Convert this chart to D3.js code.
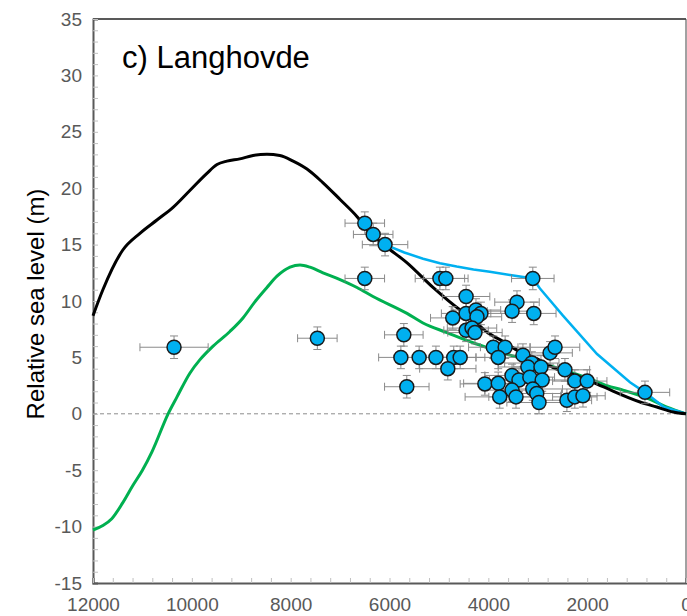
<!DOCTYPE html>
<html>
<head>
<meta charset="utf-8">
<script src="https://cdn.jsdelivr.net/npm/d3@7"></script>
<style>
  body { margin: 0; background: #fff; }
  svg { display: block; font-family: "Liberation Sans", Arial, sans-serif; }
</style>
</head>
<body>
<script>
    const width = 687;
    const height = 616;

    // model curves, [age (yr BP), RSL (m)]
    const blackModel = [
        [12000, 8.7], [11800, 11.0], [11400, 14.5], [11050, 16.0], [10700, 17.2],
        [10380, 18.3], [10040, 19.8], [9700, 21.3], [9490, 22.1], [9290, 22.4],
        [9030, 22.6], [8760, 22.9], [8480, 23.0], [8220, 22.9], [7950, 22.4],
        [7670, 21.7], [7350, 20.5], [7000, 19.0], [6660, 17.5], [6400, 16.1],
        [6090, 14.9], [5650, 13.4], [5120, 11.2], [4570, 9.2], [4370, 8.6],
        [4030, 7.25], [3700, 6.4], [3360, 5.5], [3020, 4.9], [2690, 4.1],
        [2350, 3.6], [2000, 3.0], [1680, 2.4], [930, 1.05], [590, 0.6],
        [260, 0.16], [0, 0]
    ];
    const greenModel = [
        [12000, -10.3], [11800, -9.9], [11620, -9.3], [11400, -7.9], [11200, -6.4],
        [11000, -5.0], [10800, -3.3], [10480, 0], [10300, 1.5], [10040, 3.6],
        [9835, 4.8], [9570, 6.0], [9230, 7.3], [8965, 8.5], [8720, 9.95],
        [8480, 11.2], [8277, 12.2], [8013, 13.0], [7811, 13.2], [7609, 13.0],
        [7346, 12.5], [7002, 11.9], [6658, 11.2], [6334, 10.4], [5646, 8.9],
        [5322, 8.05], [4837, 7.2], [4311, 6.3], [3906, 5.7], [3562, 5.2],
        [3016, 4.6], [2490, 3.9], [1943, 3.1], [1599, 2.5], [1275, 2.1],
        [790, 1.4], [385, 0.6], [0, 0]
    ];
    const blueModel = [
        [6090, 15.0], [5700, 14.3], [5320, 13.75], [4980, 13.35], [4640, 13.05],
        [4300, 12.8], [3970, 12.6], [3560, 12.3], [3100, 12.0], [2955, 11.1],
        [2490, 8.7], [1800, 5.3], [1134, 2.8], [830, 1.9], [450, 0.6], [0, 0]
    ];

    // sea-level indicators: age, RSL, age error
    const ages = [10360, 7460, 6500, 6330, 6090, 6500, 4980, 4860, 4450, 5710,
        5770, 5400, 5060, 4700, 4570, 4820, 5650, 4720, 4450, 4250,
        4150, 4230, 4450, 4330, 4270, 3100, 3420, 3520, 3080, 3900,
        3660, 3800, 3300, 2750, 2650, 3120, 3200, 2935, 2450, 2250,
        2000, 3520, 3380, 3160, 2910, 4070, 3800, 3520, 3100, 3770,
        3440, 3020, 2975, 2410, 2250, 2085, 830];
    const levels = [5.9, 6.7, 16.9, 15.9, 15.0, 12.0, 12.0, 12.0, 10.4, 7.0,
        5.0, 5.0, 5.0, 5.0, 5.0, 4.0, 2.4, 8.5, 8.9, 9.2,
        8.9, 8.6, 7.4, 7.6, 7.2, 12.0, 9.9, 9.1, 8.9, 5.9,
        5.9, 5.0, 5.2, 5.4, 5.9, 4.5, 4.15, 4.15, 3.9, 2.9,
        2.9, 3.4, 3.0, 3.25, 3.0, 2.65, 2.7, 2.1, 2.2, 1.5,
        1.5, 1.8, 1.0, 1.2, 1.5, 1.6, 1.9];
    const ageErr = [690, 400, 400, 400, 460, 400, 500, 450, 480, 390,
        450, 450, 450, 450, 500, 570, 450, 450, 500, 500,
        550, 500, 450, 500, 550, 430, 450, 500, 450, 500,
        500, 450, 600, 450, 500, 550, 600, 550, 500, 450,
        400, 550, 600, 500, 600, 500, 700, 550, 600, 700,
        550, 500, 650, 500, 450, 450, 500];
    const levelErr = 1;

    const yTicks = d3.range(-15, 36, 1);
    const xTicks = d3.range(0, 12001, 400);

    const x = d3.scaleLinear().domain([12000, 0]).range([93, 686]);
    const y = d3.scaleLinear().domain([-15, 35]).range([583, 19]);

    const svg = d3.select("body")
        .append("svg")
        .attr("width", width)
        .attr("height", height);

    // frame top / right
    svg.append("line")
        .attr("x1", x(12000)).attr("x2", x(0))
        .attr("y1", y(35)).attr("y2", y(35))
        .attr("stroke", "#222").attr("stroke-width", 1.5);
    svg.append("line")
        .attr("x1", x(0)).attr("x2", x(0))
        .attr("y1", y(35)).attr("y2", y(-15))
        .attr("stroke", "#444").attr("stroke-width", 1);

    // axes
    const yAxis = svg.append("g")
        .attr("transform", `translate(${x(12000)},0)`)
        .call(d3.axisLeft(y).tickValues(yTicks).tickSize(-5).tickPadding(11)
            .tickFormat(d => d % 5 === 0 ? d : ""));
    const xAxis = svg.append("g")
        .attr("transform", `translate(0,${y(-15)})`)
        .call(d3.axisBottom(x).tickValues(xTicks).tickSize(-5).tickPadding(15)
            .tickFormat(d => d % 2000 === 0 ? d : ""));

    [yAxis, xAxis].forEach(g => {
        g.select(".domain").attr("stroke", "#595959").attr("stroke-width", 2);
        g.selectAll(".tick line").attr("stroke", "#c0c0c0").attr("stroke-width", 1);
        g.selectAll(".tick text")
            .attr("fill", "#595959")
            .attr("font-size", 19)
            .attr("font-family", "Liberation Sans, Arial, sans-serif");
    });

    // zero line
    svg.append("line")
        .attr("x1", x(12000)).attr("x2", x(0))
        .attr("y1", y(0)).attr("y2", y(0))
        .attr("stroke", "#8c8c8c")
        .attr("stroke-width", 1)
        .attr("stroke-dasharray", "4,3");

    const smooth = d3.line()
        .x(d => x(d[0]))
        .y(d => y(d[1]))
        .curve(d3.curveMonotoneX);

    svg.append("path")
        .datum(greenModel)
        .attr("fill", "none")
        .attr("stroke", "#00b050")
        .attr("stroke-width", 3)
        .attr("d", smooth);

    svg.append("path")
        .datum(blueModel)
        .attr("fill", "none")
        .attr("stroke", "#00b0f0")
        .attr("stroke-width", 2.5)
        .attr("d", d3.line().x(d => x(d[0])).y(d => y(d[1])));

    svg.append("path")
        .datum(blackModel)
        .attr("fill", "none")
        .attr("stroke", "#000")
        .attr("stroke-width", 3)
        .attr("d", smooth);

    // error bars
    const pts = ages.map((a, i) => ({ age: a, rsl: levels[i], ea: ageErr[i] }));
    const cap = 4;

    const bars = svg.append("g")
        .attr("stroke", "#7f7f7f")
        .attr("stroke-width", 1)
        .attr("fill", "none")
        .attr("opacity", 0.9);

    bars.selectAll("path.h")
        .data(pts)
        .join("path")
        .attr("class", "h")
        .attr("d", d => {
            const x0 = x(d.age + d.ea), x1 = x(d.age - d.ea), yy = y(d.rsl);
            return `M${x0},${yy}H${x1}M${x0},${yy - cap}V${yy + cap}M${x1},${yy - cap}V${yy + cap}`;
        });

    bars.selectAll("path.v")
        .data(pts)
        .join("path")
        .attr("class", "v")
        .attr("d", d => {
            const xx = x(d.age), y0 = y(d.rsl + levelErr), y1 = y(d.rsl - levelErr);
            return `M${xx},${y0}V${y1}M${xx - cap},${y0}H${xx + cap}M${xx - cap},${y1}H${xx + cap}`;
        });

    svg.append("g")
        .selectAll("circle")
        .data(pts)
        .join("circle")
        .attr("cx", d => x(d.age))
        .attr("cy", d => y(d.rsl))
        .attr("r", 7)
        .attr("fill", "#00b0f0")
        .attr("stroke", "#1a1a1a")
        .attr("stroke-width", 1.5);

    // labels
    svg.append("text")
        .attr("x", 122)
        .attr("y", 68)
        .attr("font-size", 31)
        .attr("fill", "#000")
        .text("c) Langhovde");

    svg.append("text")
        .attr("transform", "translate(44,304) rotate(-90)")
        .attr("text-anchor", "middle")
        .attr("font-size", 24)
        .attr("fill", "#000")
        .text("Relative sea level (m)");
</script>
</body>
</html>
